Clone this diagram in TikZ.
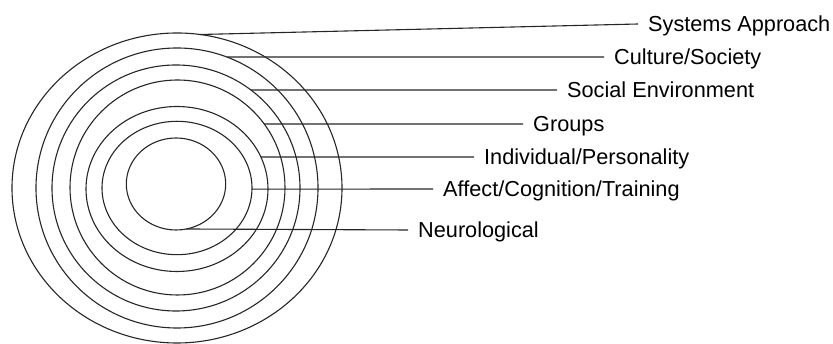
\documentclass[tikz,border=0pt]{standalone}
\usepackage{fontspec}
\setmainfont{Liberation Sans}
\usetikzlibrary{calc}

\begin{document}
\begin{tikzpicture}[x=1pt,y=1pt,
        ring/.style={draw=black!85, line width=1.1pt},
        lead/.style={draw=black!85, line width=1.1pt},
        tag/.style={anchor=west, inner xsep=10pt, inner ysep=0pt, text height=15.5pt, text depth=0pt, font=\fontsize{21.7}{26}\selectfont}
    ]
        \useasboundingbox (0,0) rectangle (833,344);

        % rings, outermost first
        \draw[ring] (177,156) ellipse [x radius=165, y radius=155];
        \draw[ring] (177,156) ellipse [x radius=141, y radius=140];
        \draw[ring] (176,156) ellipse [x radius=124, y radius=123];
        \draw[ring] (177.5,156.5) ellipse [x radius=107.5, y radius=107.5];
        \draw[ring] (177,155) ellipse [x radius=91, y radius=82.5];
        \draw[ring] (177,156) ellipse [x radius=75, y radius=66.7];
        \draw[ring] (176,160) ellipse [x radius=49.7, y radius=46];

        % where the leaders leave the rings
        \coordinate (systemsStart) at ([shift={(177,156)}]82:165 and 155);
        \coordinate (cultureStart) at ([shift={(177,156)}]69.3:141 and 140);
        \coordinate (socialStart) at ([shift={(176,156)}]52.8:124 and 123);
        \coordinate (groupsStart) at ([shift={(177.5,156.5)}]36.2:107.5 and 107.5);
        \coordinate (individualStart) at ([shift={(177,155)}]22.8:91 and 82.5);
        \coordinate (affectStart) at ([shift={(177,156)}]-1:75 and 66.7);
        \coordinate (neuroStart) at ([shift={(176,160)}]-78:49.7 and 46);

        \node[tag] (systems) at (638,320) {Systems Approach};
        \node[tag] (culture) at (604,287) {Culture/Society};
        \node[tag] (social) at (557,254) {Social Environment};
        \node[tag] (groups) at (523,220) {Groups};
        \node[tag] (individual) at (474,187) {Individual/Personality};
        \node[tag] (affect) at (433,155) {Affect/Cognition/Training};
        \node[tag] (neuro) at (408,114) {Neurological};

        \draw[lead] (systemsStart) -- (systems.west);
        \draw[lead] (cultureStart) -- (culture.west);
        \draw[lead] (socialStart) -- (social.west);
        \draw[lead] (groupsStart) -- (groups.west);
        \draw[lead] (individualStart) -- (individual.west);
        \draw[lead] (affectStart) -- (affect.west);
        \draw[lead] (neuroStart) -- (neuro.west);
    \end{tikzpicture}
\end{document}
